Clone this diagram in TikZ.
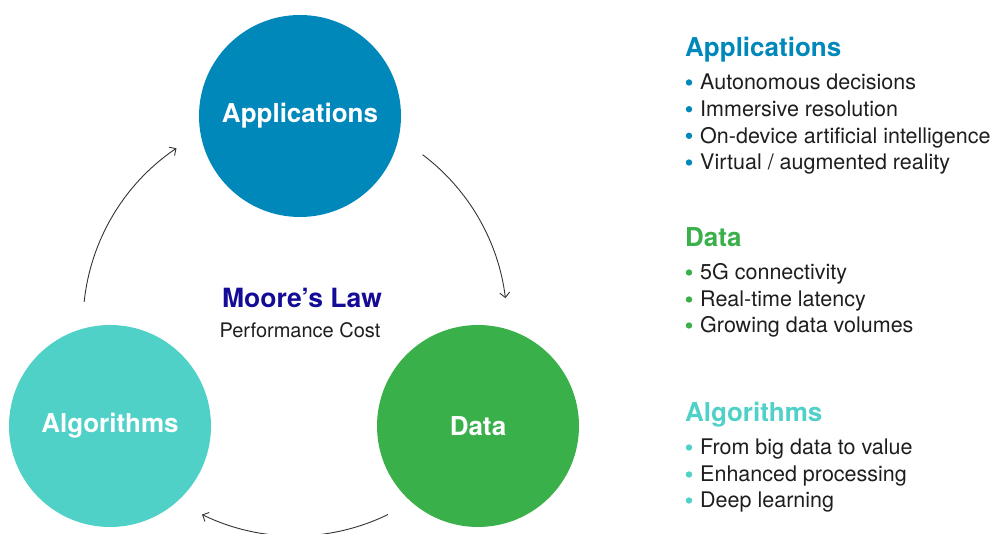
\documentclass[tikz,border=0pt]{standalone}
\usepackage{fontspec}
\setmainfont{TeX Gyre Heros}
\usepackage{xcolor}
\usetikzlibrary{arrows.meta}
\definecolor{appblue}{HTML}{0088BB}
\definecolor{datagreen}{HTML}{39B04A}
\definecolor{algoteal}{HTML}{4FD1C8}
\definecolor{lawblue}{HTML}{140C96}
\definecolor{bodytext}{HTML}{1E1E1E}

\begin{document}
\begin{tikzpicture}[x=1pt, y=1pt, >={Straight Barb[length=5pt, width=10pt]},
    every node/.style={inner sep=0pt, text=bodytext, font=\fontsize{21.5}{26}\selectfont},
    bubble/.style={circle, minimum size=202pt, text=white, font=\fontsize{26}{30}\selectfont\bfseries},
    head/.style={anchor=base west, font=\fontsize{26}{30}\selectfont\bfseries},
    item/.style={anchor=base west},
    cycle/.style={->, draw=black!80, line width=0.9pt}]
      \useasboundingbox (0,0) rectangle (996,534);
      \clip (0,0) rectangle (996,534);
      \coordinate (hub) at (295,210);
      \node[bubble, fill=appblue] (app) at (300,418) {Applications};
      \node[bubble, fill=algoteal] (algo) at (110,108) {Algorithms};
      \node[bubble, fill=datagreen] (data) at (478,108) {Data};
      \node[anchor=base, text=lawblue, font=\fontsize{26.5}{30}\selectfont\bfseries] (law) at (302,226) {Moore’s Law};
      \node[anchor=base, font=\fontsize{20}{24}\selectfont] (cost) at (300,196) {Performance Cost};
      % the cycle
      \draw[cycle] ([shift={(174:212)}]hub) arc[start angle=174, end angle=124, radius=212];
      \draw[cycle] ([shift={(53:212)}]hub) arc[start angle=53, end angle=7, radius=212];
      \draw[cycle] ([shift={(-64:212)}]hub) arc[start angle=-64, end angle=-116, radius=212];
      % lists on the right
      \node[head, text=appblue] (apphead) at (685,477) {Applications};
      \foreach \y/\t in {444/Autonomous decisions, 417.3/Immersive resolution,
                         390.7/On-device artificial intelligence, 364/{Virtual / augmented reality}} {
        \fill[appblue] (689,\y+7.5) circle (3.2);
        \node[item] at (700,\y) {\t};
      }
      \node[head, text=datagreen] (datahead) at (685,287) {Data};
      \foreach \y/\t in {254/5G connectivity, 227/Real-time latency, 201/Growing data volumes} {
        \fill[datagreen] (689,\y+7.5) circle (3.2);
        \node[item] at (700,\y) {\t};
      }
      \node[head, text=algoteal] (algohead) at (685,112) {Algorithms};
      \foreach \y/\t in {79/From big data to value, 52/Enhanced processing, 26/Deep learning} {
        \fill[algoteal] (689,\y+7.5) circle (3.2);
        \node[item] at (700,\y) {\t};
      }
    \end{tikzpicture}
\end{document}
